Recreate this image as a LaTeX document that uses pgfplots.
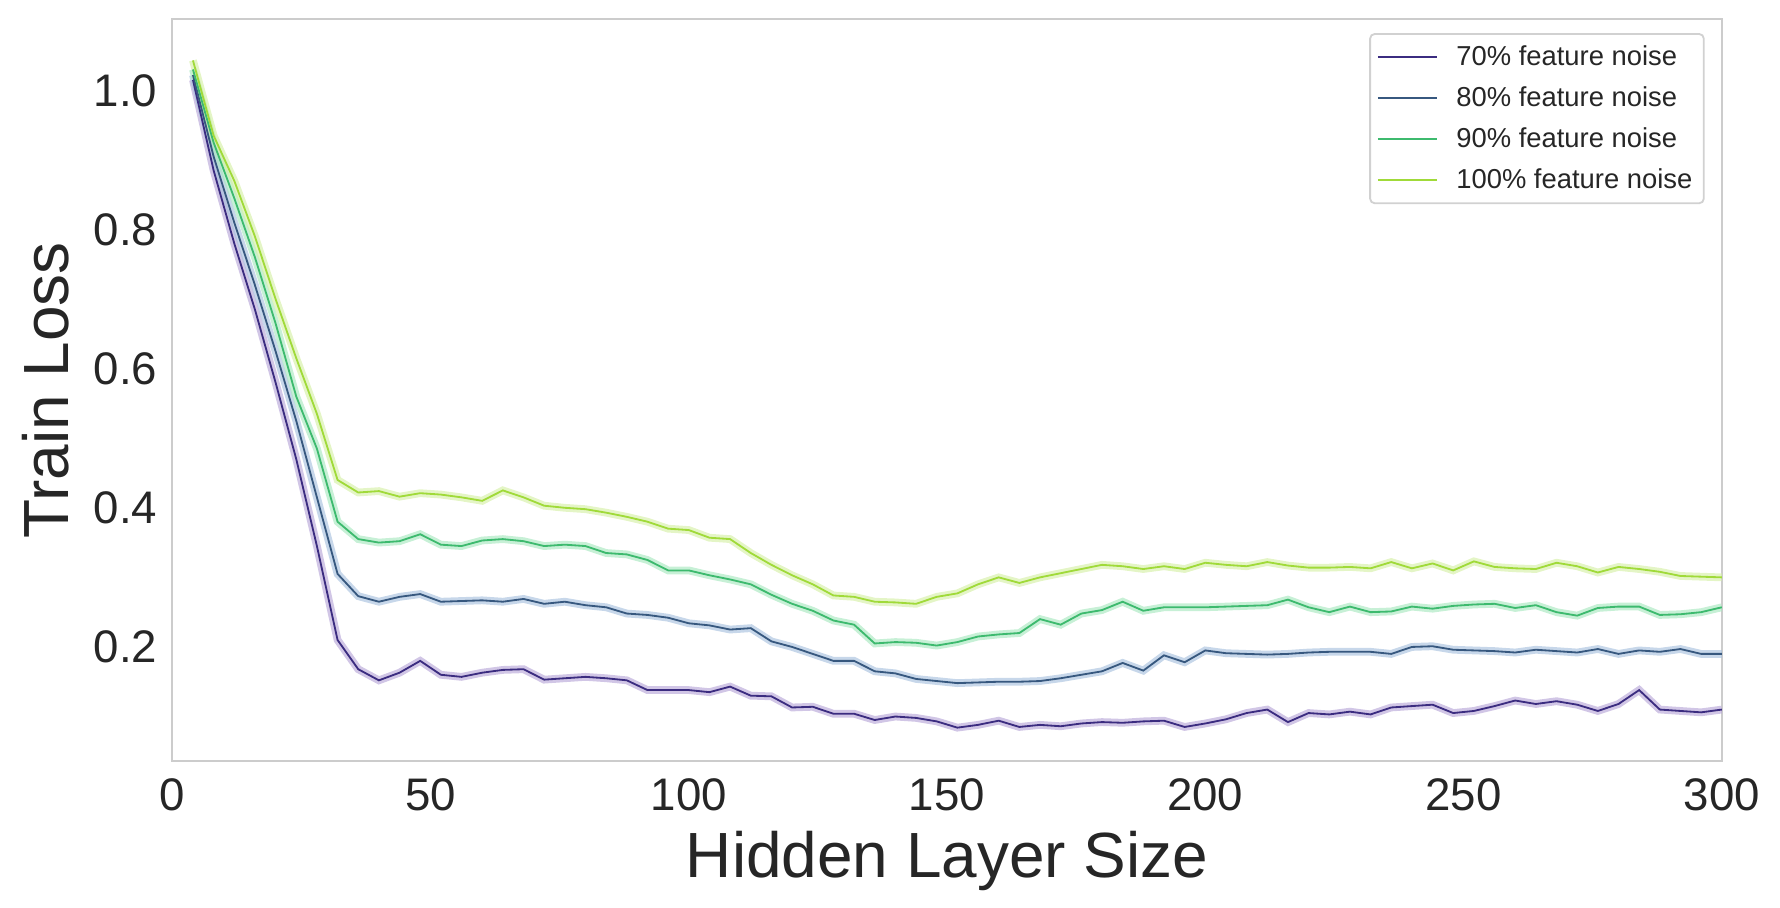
\documentclass[border=0pt]{standalone}
\usepackage{pgfplots}
\pgfplotsset{compat=1.18}
\usepackage{pgfplotstable}
\usepackage{fontspec}
\setmainfont{Liberation Sans}
\definecolor{cA}{HTML}{3B2C80}
\definecolor{cB}{HTML}{37587F}
\definecolor{cC}{HTML}{3DBA6E}
\definecolor{cD}{HTML}{A0DA39}
\definecolor{bA}{HTML}{B9A8D8}
\definecolor{bB}{HTML}{A9C2DE}
\definecolor{bC}{HTML}{A9E8C0}
\definecolor{bD}{HTML}{D6F0A8}
\definecolor{txt}{HTML}{262626}
\pgfplotstableread{
x p70 p80 p90 p100
4 1.015 1.022 1.030 1.043
8 0.885 0.905 0.925 0.935
12 0.78 0.81 0.845 0.87
16 0.685 0.72 0.76 0.79
20 0.58 0.625 0.665 0.70
24 0.47 0.525 0.56 0.615
28 0.345 0.415 0.485 0.535
32 0.21 0.305 0.38 0.44
36 0.168 0.273 0.355 0.422
40 0.152 0.265 0.350 0.424
44 0.163 0.272 0.352 0.416
48 0.180 0.276 0.362 0.421
52 0.160 0.265 0.347 0.419
56 0.157 0.266 0.345 0.415
60 0.163 0.267 0.353 0.410
64 0.167 0.265 0.355 0.425
68 0.168 0.269 0.352 0.415
72 0.153 0.262 0.345 0.403
76 0.155 0.265 0.347 0.400
80 0.157 0.260 0.345 0.398
84 0.155 0.257 0.335 0.393
88 0.152 0.248 0.333 0.387
92 0.138 0.246 0.325 0.380
96 0.138 0.242 0.310 0.370
100 0.138 0.234 0.310 0.368
104 0.135 0.231 0.303 0.357
108 0.143 0.225 0.297 0.355
112 0.130 0.227 0.290 0.335
116 0.129 0.208 0.275 0.318
120 0.113 0.200 0.262 0.303
124 0.114 0.190 0.252 0.290
128 0.104 0.180 0.238 0.274
132 0.104 0.180 0.232 0.272
136 0.095 0.165 0.205 0.265
140 0.100 0.162 0.207 0.264
144 0.098 0.154 0.206 0.262
148 0.093 0.151 0.202 0.272
152 0.084 0.148 0.207 0.277
156 0.088 0.149 0.215 0.290
160 0.094 0.150 0.218 0.300
164 0.085 0.150 0.220 0.292
168 0.088 0.151 0.240 0.300
172 0.086 0.155 0.232 0.306
176 0.090 0.160 0.248 0.312
180 0.092 0.165 0.253 0.318
184 0.091 0.177 0.265 0.316
188 0.093 0.166 0.252 0.312
192 0.094 0.188 0.257 0.316
196 0.085 0.178 0.257 0.312
200 0.090 0.195 0.257 0.321
204 0.096 0.191 0.258 0.318
208 0.105 0.190 0.259 0.316
212 0.110 0.189 0.260 0.322
216 0.092 0.190 0.268 0.317
220 0.105 0.192 0.257 0.314
224 0.103 0.193 0.250 0.314
228 0.107 0.193 0.258 0.315
232 0.103 0.193 0.250 0.313
236 0.113 0.190 0.251 0.322
240 0.115 0.200 0.258 0.313
244 0.117 0.201 0.255 0.320
248 0.105 0.196 0.259 0.310
252 0.108 0.195 0.261 0.323
256 0.115 0.194 0.262 0.315
260 0.123 0.192 0.256 0.313
264 0.118 0.196 0.260 0.312
268 0.122 0.194 0.250 0.321
272 0.117 0.192 0.245 0.316
276 0.108 0.197 0.256 0.307
280 0.118 0.190 0.258 0.315
284 0.138 0.195 0.258 0.312
288 0.110 0.193 0.246 0.308
292 0.108 0.197 0.247 0.302
296 0.106 0.190 0.250 0.301
300 0.110 0.190 0.257 0.300
}\datatable
\begin{document}
\begin{tikzpicture}
\path[use as bounding box] (-75.5pt,-64pt) rectangle (704.5pt,333.5pt);
\begin{axis}[
  scale only axis,
  width=679pt, height=325pt,
  xmin=0, xmax=300, ymin=0.036, ymax=1.102,
  xtick={0,50,100,150,200,250,300},
  ytick={0.2,0.4,0.6,0.8,1.0},
  yticklabel style={/pgf/number format/fixed, /pgf/number format/fixed zerofill, /pgf/number format/precision=1, xshift=-3pt},
  /pgf/number format/assume math mode=true,
  tick style={draw=none},
  axis line style={draw=black!20, line width=0.8pt},
  ticklabel style={font=\fontsize{20}{24}\selectfont, text=txt},
  xticklabel style={yshift=-4pt},
  xlabel={Hidden Layer Size},
  ylabel={Train Loss},
  every axis x label/.style={at={(axis description cs:0.5,-0.135)}, anchor=center, font=\fontsize{28}{32}\selectfont, text=txt},
  every axis y label/.style={at={(axis description cs:-0.0817,0.5)}, rotate=90, anchor=center, font=\fontsize{28}{32}\selectfont, text=txt},
  legend style={at={(1,1)}, anchor=north east, xshift=-7.5pt, yshift=-6pt,
    draw=black!18, rounded corners=2pt, line width=0.8pt,
    font=\fontsize{12}{14}\selectfont, text=txt,
    row sep=3.8pt, inner sep=3pt,
    nodes={inner sep=2pt},
    /tikz/every odd column/.append style={column sep=6pt}},
  legend cell align=left,
  legend image code/.code={\draw[#1, line width=0.8pt] (0pt,0pt) -- (26pt,0pt);},
]
\addplot[bA, line width=3.4pt, opacity=0.65, forget plot] table[x=x,y=p70] {\datatable};
\addplot[bB, line width=3.4pt, opacity=0.65, forget plot] table[x=x,y=p80] {\datatable};
\addplot[bC, line width=3.4pt, opacity=0.65, forget plot] table[x=x,y=p90] {\datatable};
\addplot[bD, line width=3.4pt, opacity=0.65, forget plot] table[x=x,y=p100] {\datatable};
\addplot[cA, line width=0.8pt] table[x=x,y=p70] {\datatable};
\addlegendentry{70\% feature noise}
\addplot[cB, line width=0.8pt] table[x=x,y=p80] {\datatable};
\addlegendentry{80\% feature noise}
\addplot[cC, line width=0.8pt] table[x=x,y=p90] {\datatable};
\addlegendentry{90\% feature noise}
\addplot[cD, line width=0.8pt] table[x=x,y=p100] {\datatable};
\addlegendentry{100\% feature noise}
\end{axis}
\end{tikzpicture}
\end{document}
